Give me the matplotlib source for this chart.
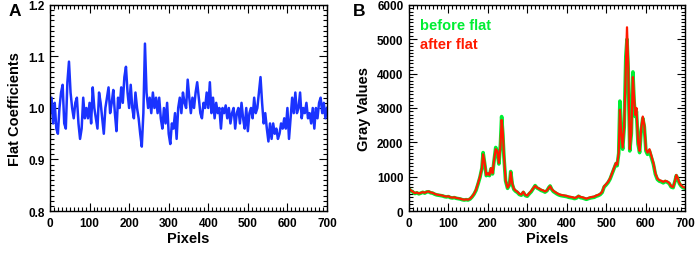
import numpy as np
import matplotlib
matplotlib.use("Agg")
import matplotlib.pyplot as plt
from matplotlib.ticker import MultipleLocator

plt.rcParams['font.family'] = ['Liberation Sans', 'DejaVu Sans']
plt.rcParams['font.weight'] = 'bold'

# panel A: flat coefficients, read every 4 pixels
flat_x = np.arange(0, 701, 4)
flat_coef = [
    0.99, 1.02, 0.97, 1.01, 0.96, 0.95, 1.00, 1.03, 1.045, 0.97, 0.96,
    1.05, 1.09, 1.03, 1.00, 0.98, 1.01, 1.02, 0.97, 0.94, 0.96,
    1.02, 0.98, 1.00, 0.98, 1.01, 0.97, 1.04, 1.00, 0.98, 0.96,
    1.03, 1.01, 0.98, 0.95, 1.00, 1.02, 1.04, 0.99, 1.01, 1.035,
    0.99, 0.955, 1.02, 1.00, 1.04, 1.01, 1.06, 1.08, 1.03, 1.00,
    1.045, 1.00, 0.98, 1.03, 1.00, 0.98, 0.95, 0.925, 0.99, 1.125,
    1.03, 1.00, 1.02, 0.99, 1.03, 1.00, 1.02, 0.99, 1.02, 0.98,
    0.96, 1.00, 0.97, 1.01, 0.95, 0.93, 0.97, 0.96, 0.99, 0.94,
    1.00, 1.02, 0.99, 1.03, 1.01, 1.00, 1.055, 1.02, 0.99, 1.02,
    1.00, 1.03, 1.05, 1.02, 0.99, 0.98, 1.01, 1.00, 1.03, 1.00,
    1.05, 0.99, 1.02, 0.98, 1.01, 0.99, 1.00, 0.96, 1.00, 0.99,
    1.005, 0.98, 1.00, 0.97, 0.99, 1.00, 0.96, 0.99, 1.00, 0.97,
    1.01, 0.98, 0.96, 1.00, 0.955, 0.99, 1.00, 0.98, 1.02, 0.99,
    1.00, 1.03, 1.06, 1.01, 0.97, 0.99, 0.96, 0.935, 0.97, 0.94,
    0.97, 0.95, 0.96, 0.94, 0.95, 0.97, 0.96, 0.98, 0.96, 1.00,
    0.94, 0.98, 1.02, 0.99, 1.03, 0.99, 1.00, 1.03, 0.98, 1.00,
    0.99, 1.01, 0.98, 0.99, 0.97, 1.00, 0.96, 1.00, 0.98, 1.01,
    1.02, 0.99, 1.01, 0.98, 1.00,
]

# panel B: gray values before / after flat
gray_x = [
    0, 5, 10, 15, 20, 25, 30, 35, 40, 45, 50, 55, 60, 65, 70, 75, 80, 85, 90, 95,
    100, 105, 110, 115, 120, 125, 130, 135, 140, 145, 150, 155, 160, 165, 170, 175,
    180, 185, 188, 192, 196, 200, 204, 208, 212, 216, 220, 224, 228, 232, 235, 238,
    241, 245, 250, 255, 258, 262, 266, 270, 275, 280, 285, 290, 295, 300, 305, 310,
    315, 320, 325, 330, 335, 340, 345, 350, 355, 358, 362, 366, 370, 375, 380, 385,
    390, 395, 400, 405, 410, 415, 420, 425, 430, 435, 440, 445, 450, 455, 460, 465,
    470, 475, 480, 485, 490, 495, 500, 505, 510, 515, 520, 525, 528, 532, 535, 538,
    542, 546, 550, 553, 556, 560, 564, 568, 571, 574, 577, 581, 585, 589, 593, 597,
    601, 605, 610, 615, 620, 625, 630, 635, 640, 645, 650, 655, 660, 665, 670, 675,
    678, 682, 686, 690, 695, 700,
]
gray_after = [
    650, 600, 560, 520, 540, 510, 530, 550, 530, 560, 570, 540, 530, 500, 480, 470, 460, 450, 430, 420,
    430, 400, 390, 400, 380, 370, 360, 340, 330, 340, 330, 360, 420, 500, 620, 800,
    1000, 1250, 1650, 1400, 1050, 1100, 1050, 1250, 1100, 1500, 1800, 1750, 1400, 1900, 2650, 2300,
    1600, 900, 680, 780, 1130, 800, 650, 600, 560, 500, 480, 560, 470, 450, 520, 580,
    660, 730, 680, 650, 620, 600, 570, 600, 680, 720, 640, 590, 560, 520, 490, 470,
    460, 450, 440, 420, 410, 400, 380, 400, 440, 410, 400, 380, 360, 380, 400, 410,
    420, 450, 470, 500, 560, 720, 780, 850, 950, 1100, 1250, 1400, 1350, 1700, 2950, 2300,
    1850, 2500, 4200, 5350, 4300, 1800, 2300, 3900, 3300, 2800, 3000, 2000, 1750, 2400, 2750, 2500,
    1800, 1700, 1800, 1600, 1400, 1100, 950, 900, 880, 850, 880, 860, 820, 720, 700, 900,
    1050, 950, 820, 750, 700, 680,
]
gray_before = [
    640, 590, 550, 510, 530, 500, 520, 545, 520, 555, 560, 530, 520, 490, 470, 460, 450, 440, 420, 410,
    420, 390, 380, 390, 370, 360, 350, 330, 320, 330, 320, 350, 410, 490, 600, 780,
    980, 1250, 1700, 1380, 1030, 1080, 1030, 1230, 1080, 1480, 1850, 1720, 1370, 1950, 2750, 2250,
    1550, 880, 660, 760, 1150, 780, 630, 580, 540, 480, 460, 540, 450, 430, 500, 560,
    650, 740, 670, 640, 600, 580, 550, 590, 690, 730, 630, 570, 540, 500, 470, 450,
    440, 430, 420, 400, 390, 380, 360, 380, 430, 390, 380, 360, 340, 360, 380, 390,
    400, 430, 450, 480, 540, 700, 760, 830, 930, 1080, 1230, 1380, 1320, 1680, 3200, 2250,
    1800, 2450, 4500, 5000, 4150, 1750, 2250, 4050, 3200, 2750, 2900, 1950, 1700, 2350, 2700, 2450,
    1750, 1650, 1750, 1560, 1360, 1070, 920, 870, 850, 820, 860, 840, 800, 700, 680, 880,
    1030, 930, 800, 730, 680, 660,
]

fig = plt.figure(figsize=(6.99, 2.55), dpi=100)
axA = fig.add_axes([0.0715, 0.1686, 0.3963, 0.808])
axB = fig.add_axes([0.5851, 0.1686, 0.3948, 0.808])


def style(ax):
    ax.tick_params(which='both', direction='in', top=True, right=True,
                   labelsize=8.5, width=0.8, pad=4)
    ax.tick_params(which='major', length=6)
    ax.tick_params(which='minor', length=3)
    ax.xaxis.set_major_locator(MultipleLocator(100))
    ax.xaxis.set_minor_locator(MultipleLocator(10))
    for s in ax.spines.values():
        s.set_linewidth(1.0)
    for lab in ax.get_xticklabels() + ax.get_yticklabels():
        lab.set_fontweight('bold')


axA.plot(flat_x, flat_coef, color='#1a33ff', lw=1.8)
axA.set_xlim(0, 700)
axA.set_ylim(0.8, 1.2)
axA.yaxis.set_major_locator(MultipleLocator(0.1))
axA.yaxis.set_minor_locator(MultipleLocator(0.01))
axA.set_yticks([0.8, 0.9, 1.0, 1.1, 1.2])
axA.set_yticklabels(['0.8', '0.9', '1.0', '1.1', '1.2'])
style(axA)
axA.set_xlabel('Pixels', fontsize=10.5, fontweight='bold', labelpad=2)
axA.set_ylabel('Flat Coefficients', fontsize=10.5, fontweight='bold', labelpad=4)

axB.plot(gray_x, gray_before, color='#00ee33', lw=2.6)
axB.plot(gray_x, gray_after, color='#ff1a00', lw=1.6)
axB.set_xlim(0, 700)
axB.set_ylim(0, 6000)
axB.yaxis.set_major_locator(MultipleLocator(1000))
axB.yaxis.set_minor_locator(MultipleLocator(100))
style(axB)
axB.set_xlabel('Pixels', fontsize=10.5, fontweight='bold', labelpad=2)
axB.set_ylabel('Gray Values', fontsize=10.5, fontweight='bold', labelpad=4)
axB.text(0.04, 0.905, 'before flat', transform=axB.transAxes, color='#00ee33',
         fontsize=10.5, fontweight='bold', va='center')
axB.text(0.04, 0.81, 'after flat', transform=axB.transAxes, color='#ff1a00',
         fontsize=10.5, fontweight='bold', va='center')

fig.text(0.012, 0.955, 'A', fontsize=12.5, fontweight='bold', va='center')
fig.text(0.505, 0.955, 'B', fontsize=12.5, fontweight='bold', va='center')

fig.savefig('out.png', dpi=100)
